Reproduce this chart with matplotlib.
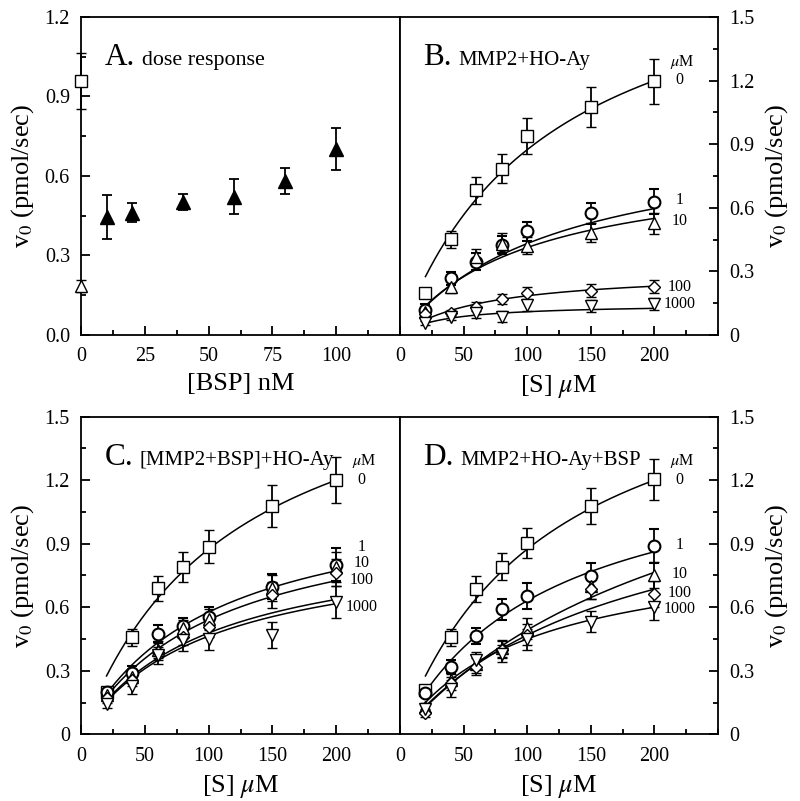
import numpy as np
import matplotlib.pyplot as plt
from matplotlib.ticker import MultipleLocator, FuncFormatter

plt.rcParams['font.family'] = ['Liberation Serif', 'DejaVu Serif']
plt.rcParams['mathtext.fontset'] = 'stix'

# ---- Panel A: dose response to BSP ----
bsp_nM = [10, 20, 40, 60, 80, 100]
bsp_v0 = [0.446, 0.461, 0.503, 0.522, 0.581, 0.702]
bsp_err = [0.084, 0.036, 0.030, 0.065, 0.050, 0.080]
# controls at [BSP] = 0: no inhibitor (square) and HO-Ay only (open triangle)
ctrl_x = [0]
ctrl_square_v0 = [0.958]
ctrl_square_err = [0.105]
ctrl_tri_v0 = [0.185]
ctrl_tri_err = [0.022]

# ---- Panels B-D: substrate kinetics at several HO-Ay concentrations ----
substrate_uM = [20, 40, 60, 80, 100, 150, 200]
inhibitor_labels = ['0', '1', '10', '100', '1000']

b_v0 = [[0.197, 0.452, 0.683, 0.785, 0.939, 1.076, 1.197],
        [0.118, 0.267, 0.346, 0.425, 0.490, 0.574, 0.629],
        [0.110, 0.228, 0.366, 0.430, 0.420, 0.483, 0.527],
        [0.100, 0.105, 0.134, 0.170, 0.197, 0.209, 0.228],
        [0.055, 0.086, 0.102, 0.086, 0.142, 0.137, 0.146]]
b_err = [[0.020, 0.040, 0.063, 0.069, 0.086, 0.095, 0.106],
         [0.030, 0.030, 0.040, 0.040, 0.045, 0.050, 0.060],
         [0.020, 0.030, 0.040, 0.050, 0.040, 0.045, 0.050],
         [0.010, 0.015, 0.020, 0.025, 0.030, 0.030, 0.030],
         [0.010, 0.015, 0.020, 0.025, 0.030, 0.030, 0.030]]
b_vmax = [1.914, 0.966, 0.825, 0.305, 0.147]
b_km = [119, 124, 100, 65, 34]

c_v0 = [[0.198, 0.458, 0.689, 0.791, 0.886, 1.078, 1.200],
        [0.200, 0.291, 0.474, 0.511, 0.552, 0.697, 0.800],
        [0.186, 0.272, 0.400, 0.500, 0.543, 0.690, 0.790],
        [0.170, 0.256, 0.390, 0.461, 0.508, 0.658, 0.763],
        [0.143, 0.228, 0.374, 0.445, 0.448, 0.469, 0.626]]
c_err = [[0.020, 0.040, 0.060, 0.070, 0.077, 0.097, 0.107],
         [0.020, 0.030, 0.040, 0.040, 0.050, 0.060, 0.078],
         [0.020, 0.030, 0.040, 0.040, 0.050, 0.060, 0.070],
         [0.020, 0.030, 0.040, 0.040, 0.050, 0.060, 0.065],
         [0.020, 0.040, 0.040, 0.050, 0.050, 0.060, 0.075]]
c_vmax = [1.914, 1.165, 1.102, 0.952, 0.922]
c_km = [119, 102, 104, 99, 99]

d_v0 = [[0.209, 0.458, 0.685, 0.792, 0.902, 1.078, 1.204],
        [0.194, 0.320, 0.464, 0.590, 0.653, 0.745, 0.889],
        [0.130, 0.256, 0.330, 0.406, 0.500, 0.700, 0.752],
        [0.100, 0.240, 0.320, 0.400, 0.470, 0.687, 0.663],
        [0.120, 0.216, 0.350, 0.380, 0.448, 0.532, 0.600]]
d_err = [[0.020, 0.040, 0.060, 0.063, 0.071, 0.087, 0.096],
         [0.020, 0.030, 0.040, 0.050, 0.060, 0.065, 0.080],
         [0.020, 0.030, 0.040, 0.040, 0.050, 0.060, 0.060],
         [0.020, 0.030, 0.040, 0.040, 0.050, 0.050, 0.060],
         [0.020, 0.040, 0.040, 0.040, 0.050, 0.050, 0.060]]
d_vmax = [1.914, 1.362, 1.717, 1.278, 0.900]
d_km = [119, 116, 249, 173, 100]

# style / layout (kept apart from the data)
MARKERS = ['s', 'o', '^', 'D', 'v']
MSIZES = [8.5, 8.5, 8.5, 6.2, 8.5]
LW = 1.3


def fmt_y(v, pos):
    return '0' if abs(v) < 1e-9 else f'{v:.1f}'


def style_axis(ax, xmax, xmajor, xminor, ymax, right=False, ytickfmt=None):
    """Box axes with inward ticks, Times-like labels"""
    ax.set_xlim(0, xmax)
    ax.set_ylim(0, ymax)
    ax.set_xticks(np.arange(0, xmax - xmajor / 2, xmajor))
    ax.xaxis.set_minor_locator(MultipleLocator(xminor))
    ax.yaxis.set_major_locator(MultipleLocator(0.3))
    ax.yaxis.set_minor_locator(MultipleLocator(0.15))
    if ytickfmt is not None:
        ax.yaxis.set_major_formatter(FuncFormatter(ytickfmt))
    for sp in ax.spines.values():
        sp.set_linewidth(LW)
    ax.tick_params(which='both', direction='in', top=False, width=LW,
                   left=not right, right=right, labelleft=not right, labelright=right)
    ax.tick_params(which='major', length=6.5)
    ax.tick_params(which='minor', length=3.5)
    ax.tick_params(axis='y', labelsize=14.5, pad=8)
    ax.tick_params(axis='x', labelsize=14.5, pad=9)
    if right:
        ax.yaxis.set_label_position('right')
    ax.set_ylabel(r'v$_0$ (pmol/sec)', fontsize=19, labelpad=6)


def panel_title(ax, letter, text, text_x, text_size=15):
    ax.text(0.073, 0.849, letter, transform=ax.transAxes, fontsize=22.5, va='baseline')
    ax.text(text_x, 0.849, text, transform=ax.transAxes, fontsize=text_size, va='baseline')


def draw_kinetics(ax, v0, err, vmax, km, label_y, label_x=220):
    """Michaelis-Menten fits plus the measured points for each HO-Ay level"""
    s_fit = np.linspace(substrate_uM[0], substrate_uM[-1], 200)
    for i in range(len(v0)):
        ax.plot(s_fit, vmax[i] * s_fit / (km[i] + s_fit), color='black', lw=1.1, zorder=1)
    for i in range(len(v0)):
        ax.errorbar(substrate_uM, v0[i], yerr=err[i], fmt=MARKERS[i], ms=MSIZES[i],
                    mfc='white', mec='black', mew=1.0 if i != 1 else 1.5,
                    ecolor='black', elinewidth=LW, capsize=3.6, capthick=LW, zorder=3)
    # concentration labels at the right end of each series
    ax.text(label_x + 2, 1.289, r'$\mu$M', fontsize=11.5, ha='center', va='center')
    for lab, y in zip(inhibitor_labels, label_y):
        ax.text(label_x, y, lab, fontsize=11.5, ha='center', va='center')
    ax.set_xlabel(r'[S] $\mu$M', fontsize=19, labelpad=5)


def main():
    fig = plt.figure(figsize=(8.0, 8.01), dpi=100)
    ax_a = fig.add_axes([0.10125, 0.5818, 0.39875, 0.397])
    ax_b = fig.add_axes([0.5, 0.5818, 0.3975, 0.397])
    ax_c = fig.add_axes([0.10125, 0.0833, 0.39875, 0.3966])
    ax_d = fig.add_axes([0.5, 0.0833, 0.3975, 0.3966])

    # Panel A
    ax_a.errorbar(bsp_nM, bsp_v0, yerr=bsp_err, fmt='^', ms=9.5, mfc='black', mec='black',
                  ecolor='black', elinewidth=LW, capsize=3.6, capthick=LW)
    ax_a.errorbar(ctrl_x, ctrl_square_v0, yerr=ctrl_square_err, fmt='s', ms=8.5, mfc='white',
                  mec='black', mew=1.0, ecolor='black', elinewidth=LW, capsize=3.6,
                  capthick=LW, clip_on=False, zorder=4)
    ax_a.errorbar(ctrl_x, ctrl_tri_v0, yerr=ctrl_tri_err, fmt='^', ms=8.5, mfc='white',
                  mec='black', mew=1.0, ecolor='black', elinewidth=LW, capsize=3.6,
                  capthick=LW, clip_on=False, zorder=4)
    style_axis(ax_a, 125, 25, 12.5, 1.2, right=False, ytickfmt=lambda v, p: f'{v:.1f}')
    ax_a.set_xlabel('[BSP] nM', fontsize=19, labelpad=5)
    panel_title(ax_a, 'A.', 'dose response', 0.19, text_size=15.8)

    # Panel B
    draw_kinetics(ax_b, b_v0, b_err, b_vmax, b_km, [1.203, 0.637, 0.539, 0.228, 0.146])
    style_axis(ax_b, 250, 50, 25, 1.5, right=True, ytickfmt=fmt_y)
    panel_title(ax_b, 'B.', 'MMP2+HO-Ay', 0.183)

    # Panel C
    draw_kinetics(ax_c, c_v0, c_err, c_vmax, c_km, [1.2, 0.886, 0.81, 0.73, 0.6])
    style_axis(ax_c, 250, 50, 25, 1.5, right=False, ytickfmt=fmt_y)
    panel_title(ax_c, 'C.', '[MMP2+BSP]+HO-Ay', 0.183)

    # Panel D
    draw_kinetics(ax_d, d_v0, d_err, d_vmax, d_km, [1.2, 0.894, 0.755, 0.669, 0.59])
    style_axis(ax_d, 250, 50, 25, 1.5, right=True, ytickfmt=fmt_y)
    panel_title(ax_d, 'D.', 'MMP2+HO-Ay+BSP', 0.19)

    fig.savefig('out.png', dpi=100)


if __name__ == "__main__":
    main()
